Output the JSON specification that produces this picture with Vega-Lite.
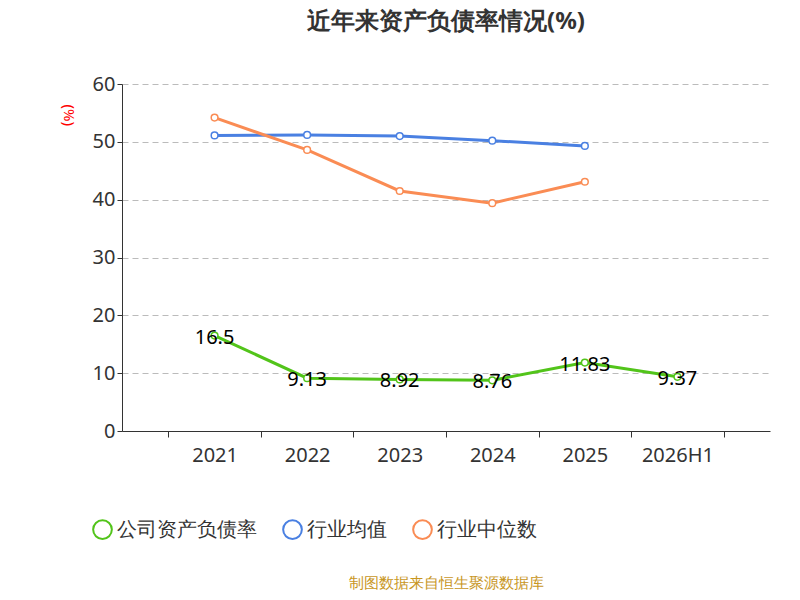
{
"$schema":"https://vega.github.io/schema/vega-lite/v6.json",
"width":800,"height":600,
"autosize":{"type":"fit","contains":"padding"},
"padding":{"left":60,"right":30,"top":10,"bottom":10},
"config":{"font":"Noto Sans","view":{"stroke":null}},
"title":{"text":"近年来资产负债率情况(%)","fontSize":24,"fontWeight":"bold","color":"#333","offset":40},
"datasets":{"d":[
{"year":"2021","s":"公司资产负债率","v":16.5,"lab":"16.5"},
{"year":"2022","s":"公司资产负债率","v":9.13,"lab":"9.13"},
{"year":"2023","s":"公司资产负债率","v":8.92,"lab":"8.92"},
{"year":"2024","s":"公司资产负债率","v":8.76,"lab":"8.76"},
{"year":"2025","s":"公司资产负债率","v":11.83,"lab":"11.83"},
{"year":"2026H1","s":"公司资产负债率","v":9.37,"lab":"9.37"},
{"year":"2021","s":"行业均值","v":51.1},
{"year":"2022","s":"行业均值","v":51.2},
{"year":"2023","s":"行业均值","v":51.0},
{"year":"2024","s":"行业均值","v":50.2},
{"year":"2025","s":"行业均值","v":49.3},
{"year":"2021","s":"行业中位数","v":54.2},
{"year":"2022","s":"行业中位数","v":48.6},
{"year":"2023","s":"行业中位数","v":41.5},
{"year":"2024","s":"行业中位数","v":39.4},
{"year":"2025","s":"行业中位数","v":43.1}
]},
"data":{"name":"d"},
"encoding":{
"x":{"field":"year","type":"ordinal","sort":null,"scale":{"paddingInner":0,"paddingOuter":0.5},
"axis":{"labelAngle":0,"labelFontSize":20,"labelColor":"#333","domainColor":"#333","tickColor":"#333","tickSize":6,"tickBand":"extent","grid":false,"labelPadding":8,
"title":"制图数据来自恒生聚源数据库","titleColor":"#c8961e","titleFontSize":15,"titleFontWeight":"normal","titlePadding":110}},
"y":{"field":"v","type":"quantitative","scale":{"domain":[0,60]},
"axis":{"tickCount":6,"labelFontSize":20,"labelColor":"#333","domain":true,"domainColor":"#333","tickColor":"#333","gridDash":[6,4],"gridColor":"#bbb",
"title":"(%)","titleColor":"red","titleFontSize":15,"titleFontWeight":"normal","titleAngle":90,"titleAlign":"left","titleAnchor":"start","titleX":-62,"titleY":20}},
"color":{"field":"s","type":"nominal","sort":["公司资产负债率","行业均值","行业中位数"],
"scale":{"domain":["公司资产负债率","行业均值","行业中位数"],"range":["#52c41a","#4a80e2","#fa8c54"]},
"legend":{"orient":"none","legendX":-30,"legendY":435,"direction":"horizontal","title":null,"labelFontSize":20,"labelColor":"#333","symbolType":"circle","symbolSize":350,"symbolStrokeWidth":2,"columnPadding":22,
"encode":{"symbols":{"update":{"fill":{"value":"white"},"stroke":{"scale":"color","field":"value"},"strokeWidth":{"value":2}}}}}}
},
"layer":[
{"mark":{"type":"line","strokeWidth":3,"point":{"filled":false,"fill":"white","size":45,"strokeWidth":1.5}}},
{"transform":[{"filter":"datum.lab"}],"mark":{"type":"text","fontSize":20,"color":"black","dy":2},"encoding":{"text":{"field":"lab"},"color":{"value":"black"}}}
]
}
